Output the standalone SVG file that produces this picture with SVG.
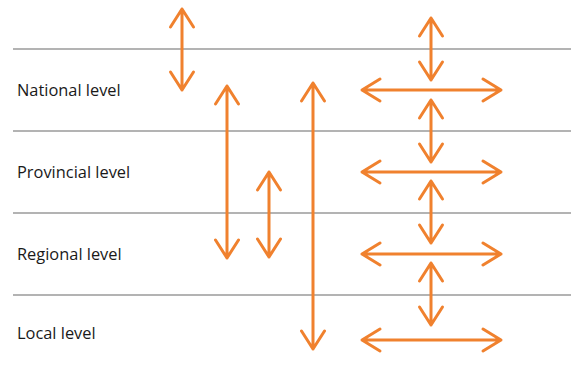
<svg xmlns="http://www.w3.org/2000/svg" width="571" height="373" viewBox="0 0 571 373">
  <style>
    .sep { stroke: #9a9a9a; stroke-width: 1.6; fill: none; }
    .arr { stroke: #f0812e; stroke-width: 3; fill: none; stroke-linecap: round; stroke-linejoin: round; }
    .lbl { font-family: "Open Sans", "Liberation Sans", sans-serif; font-size: 16.4px; fill: #1a1a1a; }
  </style>
  <rect width="571" height="373" fill="#ffffff"/>

  <!-- level separators -->
  <g id="separators">
    <line class="sep" x1="13" y1="49" x2="571" y2="49"/>
    <line class="sep" x1="13" y1="131" x2="571" y2="131"/>
    <line class="sep" x1="13" y1="213" x2="571" y2="213"/>
    <line class="sep" x1="13" y1="295" x2="571" y2="295"/>
  </g>

  <!-- level labels -->
  <g id="national"><text class="lbl" x="17" y="96">National level</text></g>
  <g id="provincial"><text class="lbl" x="17" y="178">Provincial level</text></g>
  <g id="regional"><text class="lbl" x="17" y="260">Regional level</text></g>
  <g id="local"><text class="lbl" x="17" y="339">Local level</text></g>

  <!-- double-headed arrows -->
  <g id="connectors">
    <!-- vertical arrows between levels -->
    <path class="arr" d="M182 9 V90 M170.5 27 L182 9 L193.5 27 M170.5 72 L182 90 L193.5 72"/>
    <path class="arr" d="M227 86 V258 M215.5 104 L227 86 L238.5 104 M215.5 240 L227 258 L238.5 240"/>
    <path class="arr" d="M269 172 V257 M257.5 190 L269 172 L280.5 190 M257.5 239 L269 257 L280.5 239"/>
    <path class="arr" d="M313 83 V349 M301.5 101 L313 83 L324.5 101 M301.5 331 L313 349 L324.5 331"/>

    <!-- right column: vertical links -->
    <path class="arr" d="M431 18 V80 M419.5 36 L431 18 L442.5 36 M419.5 62 L431 80 L442.5 62"/>
    <path class="arr" d="M431 100 V162 M419.5 118 L431 100 L442.5 118 M419.5 144 L431 162 L442.5 144"/>
    <path class="arr" d="M431 181 V243 M419.5 199 L431 181 L442.5 199 M419.5 225 L431 243 L442.5 225"/>
    <path class="arr" d="M431 263 V325 M419.5 281 L431 263 L442.5 281 M419.5 307 L431 325 L442.5 307"/>

    <!-- right column: horizontal links -->
    <path class="arr" d="M362 90 H501 M380 79 L362 90 L380 101 M483 79 L501 90 L483 101"/>
    <path class="arr" d="M362 172 H501 M380 161 L362 172 L380 183 M483 161 L501 172 L483 183"/>
    <path class="arr" d="M362 254 H501 M380 243 L362 254 L380 265 M483 243 L501 254 L483 265"/>
    <path class="arr" d="M362 340 H501 M380 329 L362 340 L380 351 M483 329 L501 340 L483 351"/>
  </g>
</svg>
